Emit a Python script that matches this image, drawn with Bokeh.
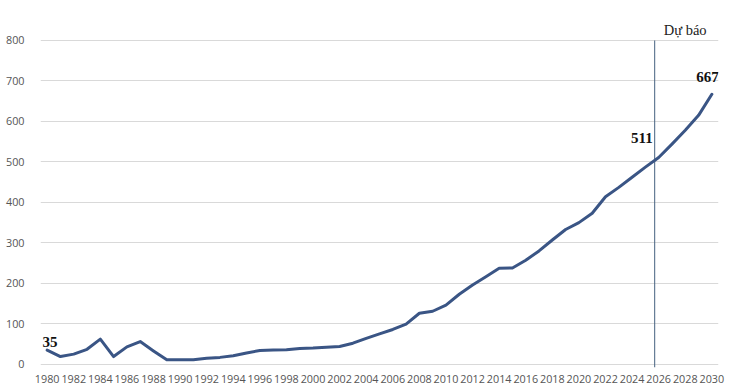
from bokeh.plotting import figure
from bokeh.models import Range1d, FixedTicker, Label
from bokeh.embed import file_html
from bokeh.resources import INLINE

# ---- data ----
years = list(range(1980, 2031))
values = [35, 19, 25, 37, 62, 19, 43, 56, 33, 11,
          11, 11, 15, 17, 21, 28, 34, 35, 36, 39,
          40, 42, 44, 52, 64, 75, 86, 99, 126, 131,
          146, 173, 196, 216, 237, 238, 257, 280, 307, 333,
          350, 373, 414, 437, 462, 487, 511, 544, 578, 615,
          667]
x_tick_labels = list(range(1980, 2031, 2))
y_ticks = list(range(0, 801, 100))
forecast_year = 2026
forecast_label = "Dự báo"
annotated_years = [1980, 2026, 2030]

line_color = "#3a5585"
divider_x = forecast_year - 0.3

p = figure(frame_width=678, frame_height=359, output_backend="svg",
           toolbar_location=None,
           x_range=Range1d(1979.5, 2030.5), y_range=Range1d(-8, 879),
           min_border_left=40, min_border_right=17, min_border_top=8,
           min_border_bottom=18)
p.outline_line_color = None
p.background_fill_color = "white"

# axes
p.xaxis.ticker = FixedTicker(ticks=x_tick_labels)
p.yaxis.ticker = FixedTicker(ticks=y_ticks)
for ax in (p.xaxis, p.yaxis):
    ax.axis_line_color = None
    ax.major_tick_line_color = None
    ax.minor_tick_line_color = None
    ax.major_label_text_font = "Open Sans"
    ax.major_label_text_font_size = "10.8px"
    ax.major_label_text_color = "#555555"
p.xaxis.major_label_standoff = 1
p.yaxis.major_label_standoff = 10

p.xgrid.grid_line_color = None
p.ygrid.grid_line_color = "#d9d9d9"
p.ygrid.grid_line_width = 1

# forecast divider
p.segment(x0=[divider_x], y0=[-8], x1=[divider_x], y1=[y_ticks[-1]],
          line_color="#44607f", line_width=1)

# main line
p.line(years, values, line_color=line_color, line_width=3,
       line_join="round", line_cap="round")

# value labels
offsets = {1980: ("left", -4.6, 8.5), 2026: ("right", -6, 19), 2030: ("center", -4.4, 17.5)}
for yr in annotated_years:
    v = values[years.index(yr)]
    align, xo, yo = offsets[yr]
    p.add_layout(Label(x=yr, y=v, text=str(v), text_align=align,
                       text_baseline="alphabetic", x_offset=xo, y_offset=yo,
                       text_font="Liberation Serif", text_font_style="bold",
                       text_font_size="15px", text_color="#111111"))

p.add_layout(Label(x=divider_x, y=y_ticks[-1], text=forecast_label,
                   text_align="left", text_baseline="alphabetic",
                   x_offset=9, y_offset=10.7, text_font="Liberation Serif",
                   text_font_size="14.5px", text_color="#222222"))

open("out.html", "w").write(file_html(p, INLINE))
